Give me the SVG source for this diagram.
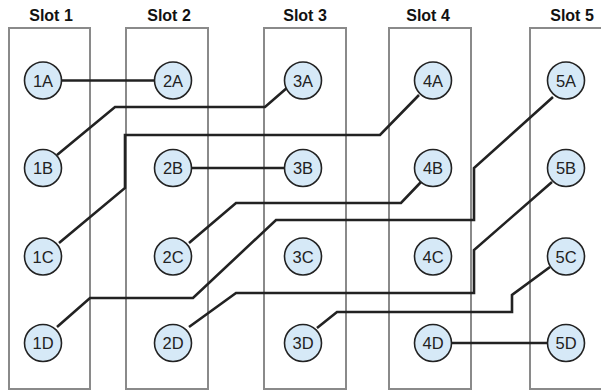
<svg xmlns="http://www.w3.org/2000/svg" width="601" height="390" viewBox="0 0 601 390">
<style>
.slot{fill:none;stroke:#8a8a8a;stroke-width:2}
.lbl{font-family:"Liberation Sans",Arial,sans-serif;font-weight:bold;font-size:16px;fill:#111;text-anchor:middle}
.n circle{fill:#d6e9f7;stroke:#222;stroke-width:1.6}
.n text{font-family:"Liberation Sans",Arial,sans-serif;font-size:16.5px;fill:#222;text-anchor:middle;dominant-baseline:central}
.w{fill:none;stroke:#222;stroke-width:2.6;stroke-linejoin:miter}
</style>
<rect width="601" height="390" fill="#fff"/>
<g id="slots">
<rect class="slot" x="9" y="28" width="81" height="361"/>
<rect class="slot" x="126" y="28" width="82" height="361"/>
<rect class="slot" x="264" y="28" width="82" height="361"/>
<rect class="slot" x="389" y="28" width="82" height="361"/>
<rect class="slot" x="530" y="28" width="82" height="361"/>
<text class="lbl" x="51" y="21">Slot 1</text>
<text class="lbl" x="169" y="21">Slot 2</text>
<text class="lbl" x="305" y="21">Slot 3</text>
<text class="lbl" x="428" y="21">Slot 4</text>
<text class="lbl" x="572" y="21">Slot 5</text>
</g>
<g id="connectors">
<path class="w" d="M61,80.5H155"/>
<path class="w" d="M57,155L115,107H265L288,87"/>
<path class="w" d="M59,243L125,188V135H380L419,95"/>
<path class="w" d="M57,327L90,298H193L276,220H474V168L553,97"/>
<path class="w" d="M191,168H285"/>
<path class="w" d="M189,243L236,203H401L421,182"/>
<path class="w" d="M189,327L236,293H474V250L552,182"/>
<path class="w" d="M317,328L337,312H512V295L550,267"/>
<path class="w" d="M451,343H547"/>
</g>
<g id="n1A" class="n"><circle cx="43" cy="80.5" r="18.5"/><text x="43" y="80.5">1A</text></g>
<g id="n2A" class="n"><circle cx="173" cy="80.5" r="18.5"/><text x="173" y="80.5">2A</text></g>
<g id="n3A" class="n"><circle cx="303" cy="80.5" r="18.5"/><text x="303" y="80.5">3A</text></g>
<g id="n4A" class="n"><circle cx="433" cy="80.5" r="18.5"/><text x="433" y="80.5">4A</text></g>
<g id="n5A" class="n"><circle cx="566" cy="80.5" r="18.5"/><text x="566" y="80.5">5A</text></g>
<g id="n1B" class="n"><circle cx="43" cy="168" r="18.5"/><text x="43" y="168">1B</text></g>
<g id="n2B" class="n"><circle cx="173" cy="168" r="18.5"/><text x="173" y="168">2B</text></g>
<g id="n3B" class="n"><circle cx="303" cy="168" r="18.5"/><text x="303" y="168">3B</text></g>
<g id="n4B" class="n"><circle cx="433" cy="168" r="18.5"/><text x="433" y="168">4B</text></g>
<g id="n5B" class="n"><circle cx="566" cy="168" r="18.5"/><text x="566" y="168">5B</text></g>
<g id="n1C" class="n"><circle cx="43" cy="256.5" r="18.5"/><text x="43" y="256.5">1C</text></g>
<g id="n2C" class="n"><circle cx="173" cy="256.5" r="18.5"/><text x="173" y="256.5">2C</text></g>
<g id="n3C" class="n"><circle cx="303" cy="256.5" r="18.5"/><text x="303" y="256.5">3C</text></g>
<g id="n4C" class="n"><circle cx="433" cy="256.5" r="18.5"/><text x="433" y="256.5">4C</text></g>
<g id="n5C" class="n"><circle cx="566" cy="256.5" r="18.5"/><text x="566" y="256.5">5C</text></g>
<g id="n1D" class="n"><circle cx="43" cy="343" r="18.5"/><text x="43" y="343">1D</text></g>
<g id="n2D" class="n"><circle cx="173" cy="343" r="18.5"/><text x="173" y="343">2D</text></g>
<g id="n3D" class="n"><circle cx="303" cy="343" r="18.5"/><text x="303" y="343">3D</text></g>
<g id="n4D" class="n"><circle cx="433" cy="343" r="18.5"/><text x="433" y="343">4D</text></g>
<g id="n5D" class="n"><circle cx="566" cy="343" r="18.5"/><text x="566" y="343">5D</text></g>
</svg>
